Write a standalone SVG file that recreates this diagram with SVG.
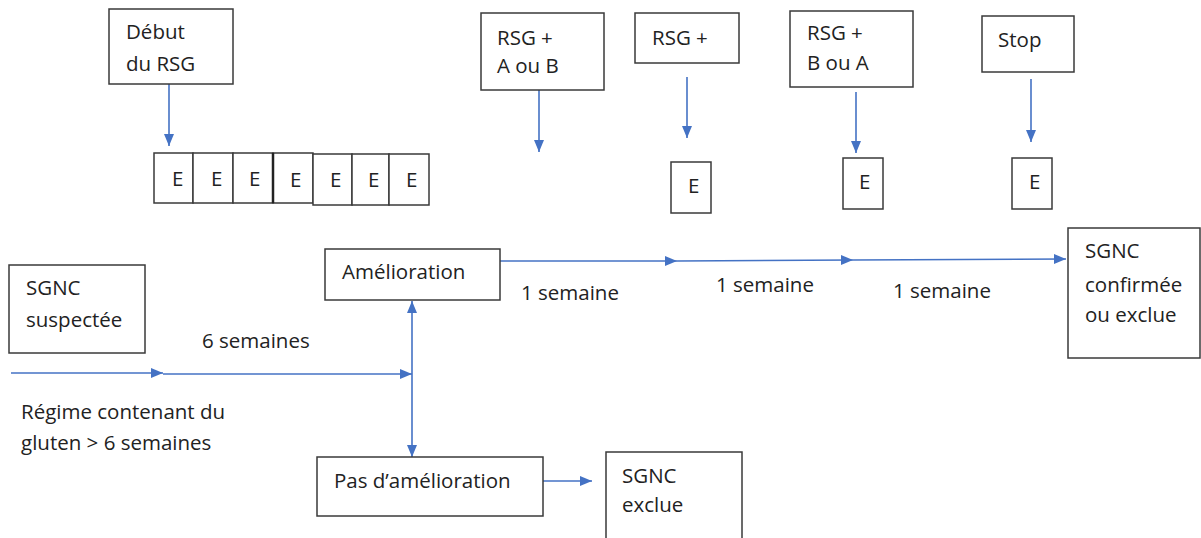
<svg xmlns="http://www.w3.org/2000/svg" width="1201" height="538" viewBox="0 0 1201 538">
<style>
.box{fill:#fff;stroke:#3a3a3a;stroke-width:1.5}
.t{font-family:"Open Sans","Noto Sans",sans-serif;font-size:20.5px;fill:#222}
.c{fill:none;stroke:#4472C4;stroke-width:1.6}
</style>
<defs>
<marker id="ah" markerUnits="userSpaceOnUse" markerWidth="12" markerHeight="12" refX="12" refY="6" orient="auto-start-reverse" viewBox="0 0 12 12">
<path d="M0,1 L12,6 L0,11 z" fill="#4472C4"/>
</marker>
</defs>
<rect width="1201" height="538" fill="#fff"/>

<g id="connectors">
<line class="c" x1="169" y1="84" x2="169" y2="146" marker-end="url(#ah)"/>
<line class="c" x1="539" y1="90" x2="539" y2="152" marker-end="url(#ah)"/>
<line class="c" x1="687" y1="77" x2="687" y2="138" marker-end="url(#ah)"/>
<line class="c" x1="856" y1="92" x2="856" y2="153" marker-end="url(#ah)"/>
<line class="c" x1="1031" y1="79" x2="1031" y2="142" marker-end="url(#ah)"/>
<line class="c" x1="11" y1="373" x2="163" y2="373" marker-end="url(#ah)"/>
<line class="c" x1="163" y1="374" x2="412" y2="374" marker-end="url(#ah)"/>
<line class="c" x1="412" y1="301" x2="412" y2="457" marker-start="url(#ah)" marker-end="url(#ah)"/>
<line class="c" x1="500" y1="261" x2="677" y2="261" marker-end="url(#ah)"/>
<line class="c" x1="677" y1="261" x2="853" y2="260" marker-end="url(#ah)"/>
<line class="c" x1="853" y1="260" x2="1066" y2="259" marker-end="url(#ah)"/>
<line class="c" x1="541" y1="481" x2="592" y2="481" marker-end="url(#ah)"/>
</g>

<g id="debut"><rect class="box" x="109" y="9" width="124" height="75"/><text class="t" x="126" y="39">Début</text><text class="t" x="126" y="71">du RSG</text></g>
<g id="rsg-ab"><rect class="box" x="481" y="13" width="123" height="77"/><text class="t" x="497" y="45">RSG +</text><text class="t" x="497" y="73">A ou B</text></g>
<g id="rsg"><rect class="box" x="635" y="13" width="104" height="50"/><text class="t" x="652" y="45">RSG +</text></g>
<g id="rsg-ba"><rect class="box" x="790" y="11" width="123" height="76"/><text class="t" x="807" y="40">RSG +</text><text class="t" x="807" y="70">B ou A</text></g>
<g id="stop"><rect class="box" x="982" y="16" width="92" height="56"/><text class="t" x="998" y="47">Stop</text></g>

<g id="e-row">
<rect class="box" x="154" y="153" width="39" height="50"/><text class="t" x="172" y="186">E</text>
<rect class="box" x="193" y="153" width="40" height="50"/><text class="t" x="211" y="186">E</text>
<rect class="box" x="233" y="153" width="40" height="50"/><text class="t" x="249" y="186">E</text>
<rect class="box" x="273" y="153" width="40" height="50" style="stroke-width:1.5"/><line x1="273" y1="153" x2="273" y2="203" stroke="#222" stroke-width="2.5"/><text class="t" x="290" y="187">E</text>
<rect class="box" x="313" y="154" width="39" height="51"/><text class="t" x="330" y="187">E</text>
<rect class="box" x="352" y="154" width="37" height="51"/><text class="t" x="368" y="187">E</text>
<rect class="box" x="389" y="154" width="40" height="51"/><text class="t" x="406" y="187">E</text>
</g>
<g id="e1"><rect class="box" x="671" y="162" width="40" height="51"/><text class="t" x="688" y="193">E</text></g>
<g id="e2"><rect class="box" x="843" y="158" width="40" height="51"/><text class="t" x="859" y="189">E</text></g>
<g id="e3"><rect class="box" x="1012" y="158" width="40" height="51"/><text class="t" x="1029" y="189">E</text></g>

<g id="sgnc-suspectee"><rect class="box" x="9" y="265" width="136" height="88"/><text class="t" x="26" y="295">SGNC</text><text class="t" x="26" y="327">suspectée</text></g>
<g id="amelioration"><rect class="box" x="325" y="249" width="175" height="51"/><text class="t" x="342" y="279">Amélioration</text></g>
<g id="pas-amelioration"><rect class="box" x="317" y="457" width="226" height="59"/><text class="t" x="334" y="488">Pas d’amélioration</text></g>
<g id="sgnc-exclue"><rect class="box" x="606" y="452" width="136" height="100"/><text class="t" x="622" y="483">SGNC</text><text class="t" x="622" y="512">exclue</text></g>
<g id="sgnc-confirmee"><rect class="box" x="1068" y="228" width="132" height="130"/><text class="t" x="1085" y="258">SGNC</text><text class="t" x="1085" y="292">confirmée</text><text class="t" x="1085" y="322">ou exclue</text></g>

<g id="labels">
<text class="t" x="202" y="348">6 semaines</text>
<text class="t" x="21" y="419">Régime contenant du</text>
<text class="t" x="21" y="450">gluten &gt; 6 semaines</text>
<text class="t" x="521" y="300">1 semaine</text>
<text class="t" x="716" y="292">1 semaine</text>
<text class="t" x="893" y="298">1 semaine</text>
</g>
</svg>
